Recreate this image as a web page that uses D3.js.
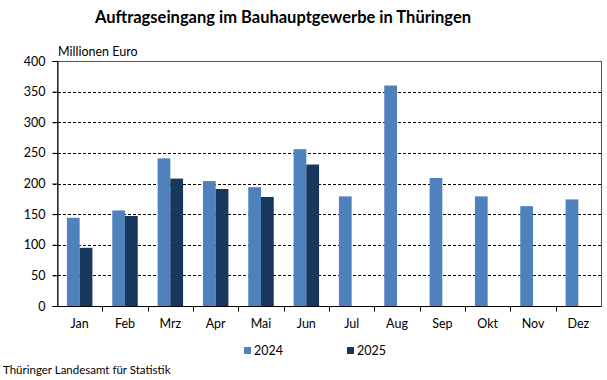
<!DOCTYPE html>
<html>
<head>
<meta charset="utf-8">
<script src="https://cdn.jsdelivr.net/npm/d3@7"></script>
<style>
  body { margin: 0; background: #fff; }
  svg { font-family: Lato, "Open Sans", sans-serif; }
</style>
</head>
<body>
<script>
// data
const months = ['Jan','Feb','Mrz','Apr','Mai','Jun','Jul','Aug','Sep','Okt','Nov','Dez'];
const values2024 = [144, 156, 241, 204, 194, 256, 179, 360, 209, 179, 163, 174];
const values2025 = [95, 147, 208, 191, 178, 231, null, null, null, null, null, null];
const series = ['2024', '2025'];
const yTicks = [0, 50, 100, 150, 200, 250, 300, 350, 400];

const width = 607, height = 380;
const plotLeft = 57, plotRight = 601, plotTop = 61, plotBottom = 306;
const colors = {'2024': '#4f81bd', '2025': '#17375e'};

const svg = d3.select('body').append('svg')
  .attr('width', width)
  .attr('height', height);

const x = d3.scaleBand().domain(months).range([plotLeft, plotRight]).paddingInner(0).paddingOuter(0);
const xs = d3.scaleBand().domain(series).range([0, x.bandwidth()]).paddingInner(0).paddingOuter(0.78);
const y = d3.scaleLinear().domain([0, 400]).range([plotBottom, plotTop]);

// gridlines
svg.append('g').selectAll('line')
  .data(yTicks.filter(t => t > 0 && t < 400))
  .enter().append('line')
  .attr('x1', plotLeft - 4).attr('x2', plotRight)
  .attr('y1', d => Math.round(y(d)) + 0.5).attr('y2', d => Math.round(y(d)) + 0.5)
  .attr('stroke', '#000')
  .attr('stroke-width', 1)
  .attr('stroke-dasharray', '3,2');

// plot frame
svg.append('rect')
  .attr('x', plotLeft + 0.5).attr('y', plotTop + 0.5)
  .attr('width', plotRight - plotLeft).attr('height', plotBottom - plotTop)
  .attr('fill', 'none')
  .attr('stroke', '#555')
  .attr('stroke-width', 1);

// bars
const rows = months.map((m, i) => ({month: m, '2024': values2024[i], '2025': values2025[i]}));
const groups = svg.append('g').selectAll('g')
  .data(rows).enter().append('g')
  .attr('transform', d => 'translate(' + x(d.month) + ',0)');

groups.selectAll('rect')
  .data(d => series.map(s => ({key: s, value: d[s]})).filter(v => v.value != null))
  .enter().append('rect')
  .attr('x', d => xs(d.key))
  .attr('width', xs.bandwidth())
  .attr('y', d => y(d.value))
  .attr('height', d => y(0) - y(d.value))
  .attr('fill', d => colors[d.key]);

// y axis
const yAxis = svg.append('g')
  .attr('transform', 'translate(' + (plotLeft + 0.5) + ',0)')
  .call(d3.axisLeft(y).tickValues(yTicks).tickSize(5).tickPadding(7));
yAxis.select('.domain').attr('stroke', '#000');
yAxis.selectAll('.tick line').attr('stroke', '#000');
yAxis.selectAll('text').attr('font-size', 12.5).attr('fill', '#000').attr('font-family', 'Lato, sans-serif');

// x axis: ticks at category boundaries
const xAxis = svg.append('g')
  .attr('transform', 'translate(0,' + (plotBottom + 0.5) + ')');
xAxis.append('line')
  .attr('x1', plotLeft).attr('x2', plotRight)
  .attr('stroke', '#000');
xAxis.selectAll('.tk')
  .data(months.slice(1))
  .enter().append('line')
  .attr('class', 'tk')
  .attr('x1', d => Math.round(x(d)) + 0.5).attr('x2', d => Math.round(x(d)) + 0.5)
  .attr('y1', 0).attr('y2', 5)
  .attr('stroke', '#000');
xAxis.selectAll('text')
  .data(months)
  .enter().append('text')
  .attr('x', d => x(d) + x.bandwidth() / 2)
  .attr('y', 21)
  .attr('text-anchor', 'middle')
  .attr('font-size', 12.5)
  .text(d => d);

// title and labels
svg.append('text')
  .attr('x', 283).attr('y', 23)
  .attr('text-anchor', 'middle')
  .attr('font-size', 16.5)
  .attr('font-weight', 'bold')
  .text('Auftragseingang im Bauhauptgewerbe in Thüringen');

svg.append('text')
  .attr('x', 58).attr('y', 56)
  .attr('font-size', 12.5)
  .text('Millionen Euro');

// legend
const legendX = [244, 347];
const legend = svg.append('g').selectAll('g')
  .data(series).enter().append('g')
  .attr('transform', (d, i) => 'translate(' + legendX[i] + ',347)');
legend.append('rect')
  .attr('width', 7).attr('height', 7)
  .attr('fill', d => colors[d]);
legend.append('text')
  .attr('x', 10).attr('y', 7.5)
  .attr('font-size', 12.5)
  .text(d => d);

svg.append('text')
  .attr('x', 3).attr('y', 374)
  .attr('font-size', 11.5)
  .text('Thüringer Landesamt für Statistik');
</script>
</body>
</html>
